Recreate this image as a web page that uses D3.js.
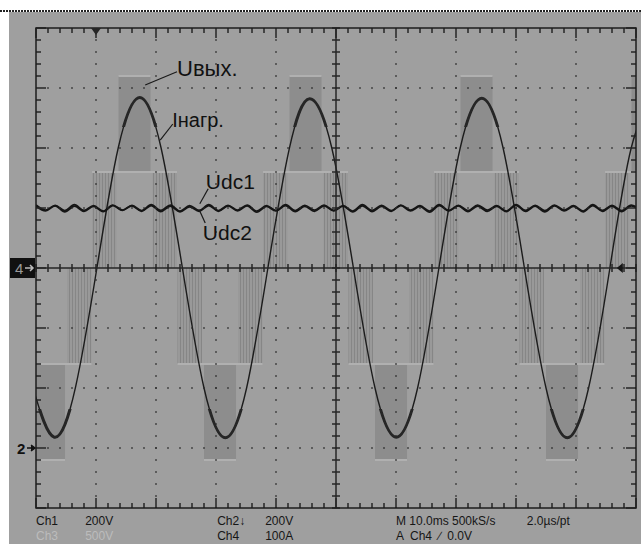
<!DOCTYPE html>
<html>
<head>
<meta charset="utf-8">
<title>Uвых, Iнагр, Udc1, Udc2</title>
<style>
  body { margin: 0; background: #fff; }
  svg { display: block; }
  .lbl { font-family: "Liberation Sans", Arial, sans-serif; fill: #111; }
  .stat { font-family: "Liberation Sans", Arial, sans-serif; font-size: 12px; fill: #161616; }
  .stat.dim { fill: #bcbcbc; }
</style>
</head>
<body>
<script src="https://cdn.jsdelivr.net/npm/d3@7/dist/d3.min.js"></script>
<script>
// ---- data ----

// load current, Ch4 (A), time in ms
var currentT = [-0.5, 3.05, 6.6, 10.15, 13.7, 17.3, 20.85, 24.4, 28.0, 31.55, 35.1, 38.65,
                42.2, 45.6, 49.3, 52.9, 56.5, 60.05, 63.6, 67.15, 70.7, 74.3, 77.85, 81.4,
                85.0, 88.55, 92.1, 95.65, 99.2, 102.8];
var currentA = [-200, -282, -198, 0, 200, 284, 200, 0, -200, -283, -200, 0,
                198, 282, 200, 0, -200, -282, -200, 0, 200, 283, 200, 0,
                -200, -283, -200, 0, 200, 283];

// output voltage Uвых, Ch3 (V): the two step levels
var uOutLevels = [800, 1600];
// spans at level ±1 : [sign, t0, t1]
var uOutLevel1 = [[-1, 0, 9.25], [1, 9.34, 23.5], [-1, 23.59, 37.75], [1, 37.84, 52.0],
                  [-1, 52.09, 66.25], [1, 66.34, 80.5], [-1, 80.59, 94.75], [1, 94.84, 100]];
// PWM between level 1 and level 2
var uOutLevel2 = [[-1, 0, 4.84], [1, 13.75, 19.09], [-1, 28.0, 33.34], [1, 42.25, 47.59],
                  [-1, 56.5, 61.84], [1, 70.75, 76.09], [-1, 85.0, 90.34], [1, 99.25, 100]];
// PWM between 0 and level 1
var uOutPwm01 = [[-1, 5.17, 9.25], [1, 9.34, 13.42], [1, 19.42, 23.5], [-1, 23.59, 27.67],
                 [-1, 33.67, 37.75], [1, 37.84, 41.92], [1, 47.92, 52.0], [-1, 52.09, 56.17],
                 [-1, 62.17, 66.25], [1, 66.34, 70.42], [1, 76.42, 80.5], [-1, 80.59, 84.67],
                 [-1, 90.67, 94.75], [1, 94.84, 98.92]];

// dc link voltages Udc1 / Udc2 (V)
var udcT = [0, 1.6, 3.2, 4.8, 6.4, 8, 9.6, 11.2, 12.8, 14.4, 16, 17.6, 19.2, 20.8, 22.4, 24,
            25.6, 27.2, 28.8, 30.4, 32, 33.6, 35.2, 36.8, 38.4, 40, 41.6, 43.2, 44.8, 46.4, 48, 49.6,
            51.2, 52.8, 54.4, 56, 57.6, 59.2, 60.8, 62.4, 64, 65.6, 67.2, 68.8, 70.4, 72, 73.6, 75.2,
            76.8, 78.4, 80, 81.6, 83.2, 84.8, 86.4, 88, 89.6, 91.2, 92.8, 94.4, 96, 97.6, 99.2, 100.8];
var udc1 = [810, 793, 809, 791, 811, 792, 808, 790, 810, 793, 809, 791, 811, 792, 810, 790,
            808, 792, 811, 791, 809, 793, 810, 790, 808, 792, 811, 791, 809, 793, 810, 792,
            808, 790, 811, 792, 809, 791, 810, 793, 808, 790, 811, 792, 809, 791, 810, 793,
            808, 790, 811, 792, 809, 791, 810, 793, 808, 790, 811, 792, 809, 791, 810, 792];
var udc2 = [806, 790, 807, 787, 806, 789, 805, 788, 808, 792, 807, 789, 808, 788, 806, 787,
            804, 789, 808, 789, 807, 790, 807, 786, 805, 790, 808, 788, 805, 789, 807, 790,
            806, 787, 807, 788, 805, 789, 808, 790, 805, 786, 808, 790, 807, 788, 806, 789,
            805, 788, 809, 789, 806, 787, 807, 790, 805, 787, 808, 789, 806, 788, 807, 789];

// status lines under the screen
var statusRow1 = [["Ch1", 0], ["200V", 0.82], ["Ch2\u2193", 3.02], ["200V", 3.82], ["M 10.0ms 500kS/s", 6.0], ["2.0\u00b5s/pt", 8.18]];
var statusRow2 = [["Ch3", 0, true], ["500V", 0.82, true], ["Ch4", 3.02], ["100A", 3.82], ["A  Ch4  \u2215  0.0V", 6.0]];

// ---- layout ----
var w = 641, h = 544;
var pLeft = 36, pRight = 636, pTop = 28, pBottom = 508;

var x = d3.scaleLinear().domain([0, 100]).range([pLeft, pRight]);          // 10 ms/div
var yI = d3.scaleLinear().domain([-400, 400]).range([pBottom, pTop]);       // Ch4 100 A/div
var yOut = d3.scaleLinear().domain([-2000, 2000]).range([pBottom, pTop]);   // Ch3 500 V/div
var yDc = d3.scaleLinear().domain([-200, 1400]).range([pBottom, pTop]);     // 200 V/div, ground at -3 div
var gx = d3.scaleLinear().domain([0, 10]).range([pLeft, pRight]);           // graticule divisions
var gy = d3.scaleLinear().domain([-4, 4]).range([pBottom, pTop]);

var svg = d3.select("body").append("svg")
  .attr("width", w)
  .attr("height", h);

var defs = svg.append("defs");
defs.append("clipPath").attr("id", "plot")
  .append("rect").attr("x", pLeft).attr("y", pTop)
  .attr("width", pRight - pLeft).attr("height", pBottom - pTop);
// current peaks look fuzzy (noise) -> thicker trace near the crests
var peakClip = defs.append("clipPath").attr("id", "peaks");
peakClip.append("rect").attr("x", pLeft).attr("y", pTop)
  .attr("width", pRight - pLeft).attr("height", yI(235) - pTop);
peakClip.append("rect").attr("x", pLeft).attr("y", yI(-235))
  .attr("width", pRight - pLeft).attr("height", pBottom - yI(-235));

var pat = defs.append("pattern").attr("id", "pwm")
  .attr("patternUnits", "userSpaceOnUse")
  .attr("width", 3).attr("height", 6);
pat.append("rect").attr("width", 3).attr("height", 6).attr("fill", "#999999");
pat.append("rect").attr("width", 1).attr("height", 6).attr("fill", "#868686");

// white frame + dotted top edge + gray screen
svg.append("rect").attr("width", w).attr("height", h).attr("fill", "#fff");
svg.append("line")
  .attr("x1", 0).attr("x2", w).attr("y1", 11).attr("y2", 11)
  .attr("stroke", "#222").attr("stroke-width", 2)
  .attr("stroke-dasharray", "2,1");
svg.append("rect")
  .attr("x", 9).attr("y", 12).attr("width", w - 9).attr("height", h - 12)
  .attr("fill", "#9f9f9f");

var plot = svg.append("g").attr("clip-path", "url(#plot)");

// Uвых: 0<->1 PWM zones
plot.selectAll("rect.pwm01")
  .data(uOutPwm01)
  .enter().append("rect")
  .attr("class", "pwm01")
  .attr("x", function(d) { return x(d[1]); })
  .attr("width", function(d) { return x(d[2]) - x(d[1]); })
  .attr("y", function(d) { return Math.min(yOut(0), yOut(d[0] * uOutLevels[0])); })
  .attr("height", function(d) { return Math.abs(yOut(0) - yOut(d[0] * uOutLevels[0])); })
  .attr("fill", "url(#pwm)");

// Uвых: 1<->2 PWM bands
plot.selectAll("rect.pwm12")
  .data(uOutLevel2)
  .enter().append("rect")
  .attr("class", "pwm12")
  .attr("x", function(d) { return x(d[1]); })
  .attr("width", function(d) { return x(d[2]) - x(d[1]); })
  .attr("y", function(d) { return Math.min(yOut(d[0] * uOutLevels[0]), yOut(d[0] * uOutLevels[1])); })
  .attr("height", function(d) { return Math.abs(yOut(d[0] * uOutLevels[0]) - yOut(d[0] * uOutLevels[1])); })
  .attr("fill", "#8d8d8d");

// level lines
plot.selectAll("line.lev1")
  .data(uOutLevel1)
  .enter().append("line")
  .attr("x1", function(d) { return x(d[1]); })
  .attr("x2", function(d) { return x(d[2]); })
  .attr("y1", function(d) { return yOut(d[0] * uOutLevels[0]); })
  .attr("y2", function(d) { return yOut(d[0] * uOutLevels[0]); })
  .attr("stroke", "#b0b0b0").attr("stroke-width", 2);
plot.selectAll("line.lev2")
  .data(uOutLevel2)
  .enter().append("line")
  .attr("x1", function(d) { return x(d[1]); })
  .attr("x2", function(d) { return x(d[2]); })
  .attr("y1", function(d) { return yOut(d[0] * uOutLevels[1]); })
  .attr("y2", function(d) { return yOut(d[0] * uOutLevels[1]); })
  .attr("stroke", "#b0b0b0").attr("stroke-width", 2);

// graticule: dotted grid
var grid = svg.append("g").attr("stroke", "#2a2a2a").attr("stroke-width", 1.5);
[1, 2, 3, 4, 6, 7, 8, 9].forEach(function(i) {
  grid.append("line")
    .attr("x1", gx(i)).attr("x2", gx(i))
    .attr("y1", gy(4) + 12 - 0.75).attr("y2", gy(-4))
    .attr("stroke-dasharray", "1.5,10.5");
});
[-3, -2, -1, 1, 2, 3].forEach(function(j) {
  grid.append("line")
    .attr("y1", gy(j)).attr("y2", gy(j))
    .attr("x1", gx(0) + 12 - 0.75).attr("x2", gx(10))
    .attr("stroke-dasharray", "1.5,10.5");
});

// centre cross
var ax = svg.append("g").attr("stroke", "#262626").attr("stroke-width", 1.5);
ax.append("line").attr("x1", gx(0)).attr("x2", gx(10)).attr("y1", gy(0)).attr("y2", gy(0));
ax.append("line").attr("x1", gx(5)).attr("x2", gx(5)).attr("y1", gy(4)).attr("y2", gy(-4));

// minor ticks, 5 per division
d3.range(0, 10.01, 0.2).forEach(function(v) {
  var major = Math.abs(v - Math.round(v)) < 1e-6;
  var len = major ? 10 : 5;
  ax.append("line").attr("x1", gx(v)).attr("x2", gx(v)).attr("y1", gy(4)).attr("y2", gy(4) + len);
  ax.append("line").attr("x1", gx(v)).attr("x2", gx(v)).attr("y1", gy(-4)).attr("y2", gy(-4) - len);
  ax.append("line").attr("x1", gx(v)).attr("x2", gx(v)).attr("y1", gy(0) - 4).attr("y2", gy(0) + 4);
});
d3.range(-4, 4.01, 0.2).forEach(function(v) {
  var major = Math.abs(v - Math.round(v)) < 1e-6;
  var len = major ? 10 : 5;
  ax.append("line").attr("y1", gy(v)).attr("y2", gy(v)).attr("x1", gx(0)).attr("x2", gx(0) + len);
  ax.append("line").attr("y1", gy(v)).attr("y2", gy(v)).attr("x1", gx(10)).attr("x2", gx(10) - len);
  ax.append("line").attr("y1", gy(v)).attr("y2", gy(v)).attr("x1", gx(5) - 4).attr("x2", gx(5) + 4);
});

// border
svg.append("rect")
  .attr("x", pLeft).attr("y", pTop)
  .attr("width", pRight - pLeft).attr("height", pBottom - pTop)
  .attr("fill", "none").attr("stroke", "#1e1e1e").attr("stroke-width", 1.5);

// trigger position marker (top) and trigger level marker (right)
svg.append("path")
  .attr("d", "M" + (gx(1) - 5) + "," + pTop + "L" + (gx(1) + 5) + "," + pTop + "L" + gx(1) + "," + (pTop + 7) + "Z")
  .attr("fill", "#262626");
svg.append("path")
  .attr("d", "M" + (gx(9.78) - 6) + "," + gy(0) + "L" + gx(9.78) + "," + (gy(0) - 5) + "L" + gx(9.78) + "," + (gy(0) + 5) + "Z")
  .attr("fill", "#161616");

// load current
var currentData = currentT.map(function(t, i) { return { t: t, v: currentA[i] }; });
var currentLine = d3.line()
  .x(function(d) { return x(d.t); })
  .y(function(d) { return yI(d.v); })
  .curve(d3.curveNatural);
plot.append("path")
  .datum(currentData)
  .attr("fill", "none")
  .attr("stroke", "#1c1c1c")
  .attr("stroke-width", 1.4)
  .attr("d", currentLine);
plot.append("g").attr("clip-path", "url(#peaks)")
  .append("path")
  .datum(currentData)
  .attr("fill", "none")
  .attr("stroke", "#262626")
  .attr("stroke-width", 3)
  .attr("d", currentLine);

// Udc1 / Udc2
[udc2, udc1].forEach(function(vals) {
  var data = udcT.map(function(t, i) { return { t: t, v: vals[i] }; });
  plot.append("path")
    .datum(data)
    .attr("fill", "none")
    .attr("stroke", "#151515")
    .attr("stroke-width", 1.7)
    .attr("d", d3.line()
      .x(function(d) { return x(d.t); })
      .y(function(d) { return yDc(d.v); })
      .curve(d3.curveCatmullRom));
});

// channel ground markers
svg.append("rect").attr("x", 10).attr("y", gy(0) - 10).attr("width", 25).attr("height", 20).attr("fill", "#111");
svg.append("text").attr("class", "lbl").attr("x", 15).attr("y", gy(0) + 6)
  .style("font-size", "15px").style("fill", "#9a9a9a").text("4");
svg.append("path").attr("d", "M25," + gy(0) + "H33M30," + (gy(0) - 3) + "L33," + gy(0) + "L30," + (gy(0) + 3))
  .attr("stroke", "#bbb").attr("stroke-width", 1.5).attr("fill", "none");
svg.append("text").attr("class", "lbl").attr("x", 17).attr("y", gy(-3) + 6)
  .style("font-size", "15px").style("font-weight", "bold").text("2");
svg.append("path").attr("d", "M27," + gy(-3) + "H35M31," + (gy(-3) - 3) + "L35," + gy(-3) + "L31," + (gy(-3) + 3))
  .attr("stroke", "#111").attr("stroke-width", 1.5).attr("fill", "#111");

// trace annotations (positions in screen divisions)
var notes = [
  { text: "Uвых.", at: [2.35, 3.2], size: 22, line: [[1.82, 3.05], [2.35, 3.27]] },
  { text: "Iнагр.", at: [2.27, 2.35], size: 20, line: [[2.07, 2.13], [2.28, 2.4]] },
  { text: "Udc1", at: [2.83, 1.32], size: 21, line: [[2.73, 1.07], [2.87, 1.32]] },
  { text: "Udc2", at: [2.78, 0.47], size: 21, line: [[2.72, 0.97], [2.82, 0.75]] }
];
notes.forEach(function(n) {
  svg.append("line")
    .attr("x1", gx(n.line[0][0])).attr("y1", gy(n.line[0][1]))
    .attr("x2", gx(n.line[1][0])).attr("y2", gy(n.line[1][1]))
    .attr("stroke", "#1a1a1a").attr("stroke-width", 1.2);
  svg.append("text").attr("class", "lbl")
    .attr("x", gx(n.at[0])).attr("y", gy(n.at[1]))
    .style("font-size", n.size + "px")
    .text(n.text);
});

// status readout
svg.selectAll("text.r1").data(statusRow1).enter().append("text")
  .attr("class", "stat r1")
  .attr("x", function(d) { return gx(d[1]); })
  .attr("y", 525)
  .text(function(d) { return d[0]; });
svg.selectAll("text.r2").data(statusRow2).enter().append("text")
  .attr("class", function(d) { return d[2] ? "stat r2 dim" : "stat r2"; })
  .attr("x", function(d) { return gx(d[1]); })
  .attr("y", 540)
  .style("white-space", "pre")
  .text(function(d) { return d[0]; });
</script>
</body>
</html>
